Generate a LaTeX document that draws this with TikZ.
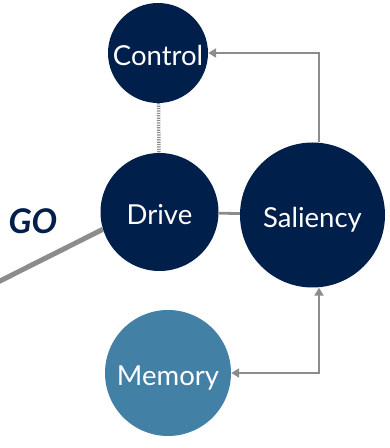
\documentclass[tikz,border=0pt]{standalone}
\usepackage{fontspec}
\setmainfont{Lato}
\usetikzlibrary{arrows.meta}
\definecolor{navy}{RGB}{0,31,74}
\definecolor{steel}{RGB}{66,128,166}
\definecolor{lgray}{RGB}{140,140,140}
\tikzset{
  bubble/.style={circle, fill=navy, text=white, inner sep=0pt, text height=25pt, text depth=0pt, font=\fontsize{27.5}{30}\selectfont},
  link/.style={draw=lgray, line width=2.8pt},
  arr/.style={draw=lgray, line width=2.8pt, -{Triangle[length=8pt,width=9pt]}},
  darr/.style={draw=lgray, line width=2.8pt, {Triangle[length=8pt,width=9pt]}-{Triangle[length=8pt,width=9pt]}},
}
\begin{document}
\begin{tikzpicture}[x=1pt,y=1pt]
\useasboundingbox (0,0) rectangle (389,448);
\coordinate (gostart) at (-8,163);
\node[bubble, minimum size=100pt] (Control) at (158,395) {Control};
\node[bubble, minimum size=118pt] (Drive) at (159.5,236) {Drive};
\node[bubble, minimum size=145pt] (Saliency) at (312.5,233) {Saliency};
\node[bubble, fill=steel, minimum size=126pt] (Memory) at (168,75) {Memory};
\node[text=navy, font=\fontsize{34}{38}\selectfont\bfseries\itshape] (GO) at (33,227) {GO};
\draw[link, line width=5pt] (gostart) -- (Drive.197);
\draw[link] (Drive) -- (Saliency);
\draw[draw=lgray, line width=3.5pt, dash pattern=on 1.2pt off 1.2pt] (Control) -- (Drive);
\draw[arr] ([xshift=6.5pt]Saliency.north) |- (Control.east);
\draw[darr] ([xshift=6.5pt]Saliency.south) |- (Memory.east);
\end{tikzpicture}
\end{document}
